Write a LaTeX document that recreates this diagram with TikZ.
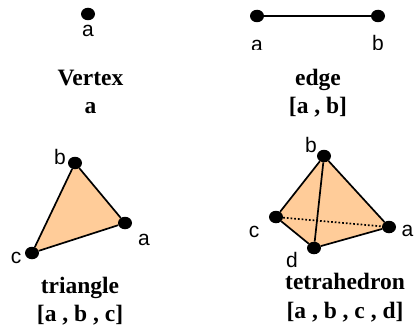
\documentclass[tikz,border=0pt]{standalone}
\usepackage{fontspec}
\setmainfont{Liberation Serif}
\setsansfont{Liberation Sans}
\usepackage{xcolor}
\usetikzlibrary{backgrounds,shapes.geometric}
\definecolor{faceorange}{HTML}{FFCC99}

\begin{document}
\begin{tikzpicture}[
    x=1pt, y=-1pt,
    vert/.style={ellipse, fill=black, inner sep=0pt, minimum width=14pt, minimum height=12.5pt},
    lab/.style={inner sep=0pt, font=\sffamily\fontsize{21}{21}\selectfont},
    caption/.style={fill=white, inner sep=0pt, align=center, font=\bfseries\fontsize{23.5}{28.5}\selectfont},
    edge/.style={line width=1.7pt},
    face/.style={fill=faceorange}
  ]
    \useasboundingbox (0,0) rectangle (414,329);

    % vertex
    \node[vert] (va) at (88,14) {};
    \node[lab] (la) at (88,31) {a};
    \node[caption] (capv) at (90.5,92) {Vertex\\a};

    % edge
    \node[vert] (ea) at (257,16) {};
    \node[vert] (eb) at (378,16) {};
    \node[lab] (lea) at (257,46) {a};
    \node[lab] (leb) at (378,43) {b};
    \draw[edge] (ea) -- (eb);
    \fill[white] (240,50) rectangle (395,60);
    \node[caption] (cape) at (318,93) {edge\\{[a , b]}};

    % triangle
    \node[vert] (ta) at (125,223) {};
    \node[vert] (tb) at (75,163) {};
    \node[vert] (tc) at (32,253) {};
    \node[lab] (lta) at (144,240) {a};
    \node[lab] (ltb) at (60,157) {b};
    \node[lab] (ltc) at (16,258) {c};
    \draw[edge] (ta) -- (tb);
    \draw[edge] (tb) -- (tc);
    \draw[edge] (tc) -- (ta);
    \begin{scope}[on background layer]
      \fill[face] (ta.center) -- (tb.center) -- (tc.center) -- cycle;
    \end{scope}
    \node[caption] (capt) at (80,301) {triangle\\{[a , b , c]}};

    % tetrahedron
    \node[vert] (ha) at (389,227) {};
    \node[vert] (hb) at (324,156) {};
    \node[vert] (hc) at (276,217) {};
    \node[vert] (hd) at (314,248) {};
    \node[lab] (lha) at (407.5,231) {a};
    \node[lab] (lhb) at (311,145) {b};
    \node[lab] (lhc) at (254,232) {c};
    \node[lab] (lhd) at (292,260) {d};
    \draw[edge] (ha) -- (hb);
    \draw[edge] (hb) -- (hc);
    \draw[edge] (hc) -- (hd);
    \draw[edge] (hd) -- (ha);
    \draw[edge] (hb) -- (hd);
    \draw[edge, dotted] (hc) -- (ha);
    \begin{scope}[on background layer]
      \fill[face] (ha.center) -- (hb.center) -- (hc.center) -- (hd.center) -- cycle;
    \end{scope}
    \node[caption] (caph) at (345,297.5) {tetrahedron\\{[a , b , c , d]}};
  \end{tikzpicture}
\end{document}
